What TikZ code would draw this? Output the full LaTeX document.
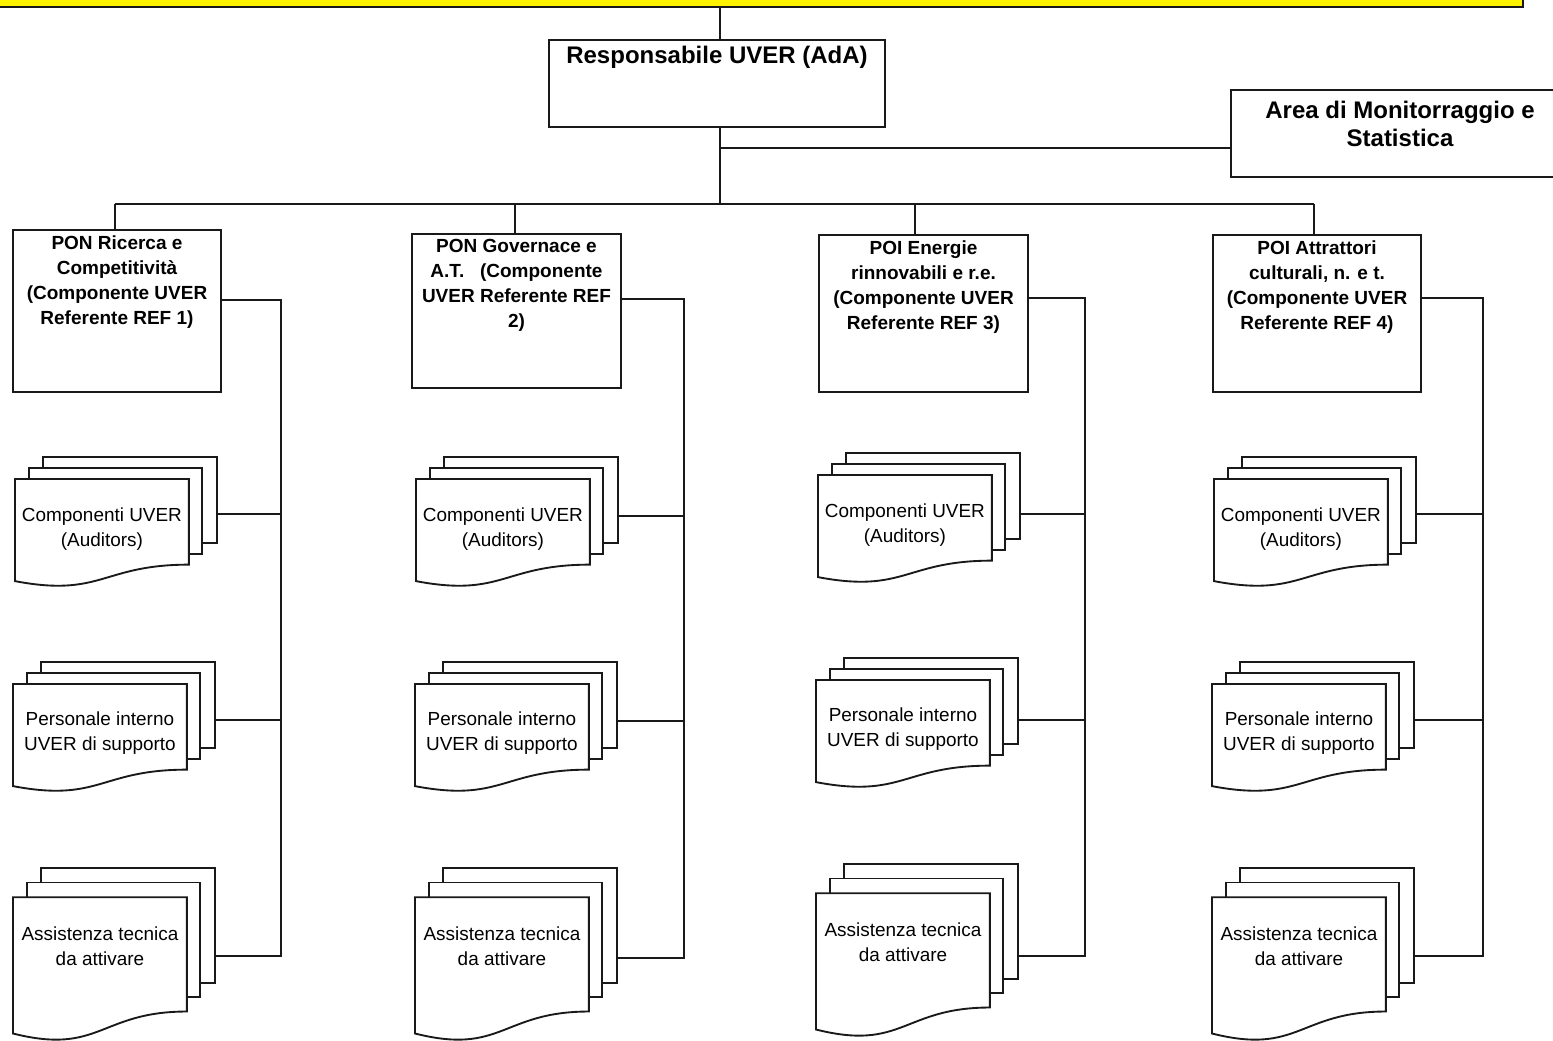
\documentclass[tikz,border=0pt]{standalone}
\usepackage{fontspec}
\setmainfont{Liberation Sans}
\usetikzlibrary{fit}
\tikzset{
  ln/.style={line width=1.4pt, draw=black!90, line join=miter},
  box/.style={ln, inner sep=0pt, fill=white},
  sheet/.style={ln, fill=white},
  boxtext/.style={align=center, font=\bfseries\fontsize{14.25}{18.9}\selectfont, inner sep=0pt},
  doctext/.style={align=center, font=\fontsize{14.2}{18.6}\selectfont, inner sep=0pt},
  bigtext/.style={align=center, font=\bfseries\fontsize{18}{21}\selectfont, inner sep=0pt},
  conn/.style={ln}
}
% multi-document shape: #1 name, #2 x, #3 top y, #4 height, #5 text, #6 text frac, #7 connector frac
\newcommand{\mdoc}[7]{%
  \begin{scope}[shift={(#2,#3)}, xscale=202, yscale=#4]
    \draw[sheet] (0.13759,0) rectangle (1,0.6663);
    \draw[sheet] (0.07093,0.08403) rectangle (0.92593,0.75241);
    \draw[sheet] (0,0.17014) -- (0.86088,0.17014) -- (0.86088,0.83435)
      .. controls (0.43046,0.83435) and (0.43046,1.08991) .. (0,0.96213) -- cycle;
    \coordinate (#1) at (1,#7);
    \node[doctext] (#1t) at (0.43044,#6) {#5};
  \end{scope}}

\begin{document}
\begin{tikzpicture}[x=0.75pt, y=-0.75pt]
\useasboundingbox (0,0) rectangle (1553,1040);
\clip (0,0) rectangle (1553,1040);

% top yellow bar
\node[fit={(-20,-20) (1523,7)}, inner sep=0pt, fill=yellow, draw=black!90, line width=1.6pt] (top) {};

% Responsabile
\node[box, fit={(549,40) (885,127)}] (resp) {};
\node[bigtext] (respt) at (717,57) {Responsabile UVER (AdA)};

% Area
\node[box, fit={(1231,90) (1570,177)}] (area) {};
\node[bigtext] (areat) at (1400,124) {Area di Monitorraggio e\\Statistica};

% PON / POI boxes
\node[box, fit={(13,230) (221,392)}] (p1) {};
\node[boxtext] (p1t) at (117,282) {PON Ricerca e\\Competitività\\(Componente UVER\\Referente REF 1)};
\node[box, fit={(412,234) (621,388)}] (p2) {};
\node[boxtext] (p2t) at (516.5,285.5) {PON Governace e\\A.T.\ \ \ (Componente\\UVER Referente REF\\2)};
\node[box, fit={(819,235) (1028,392)}] (p3) {};
\node[boxtext] (p3t) at (923.5,287) {POI Energie\\rinnovabili e r.e.\\(Componente UVER\\Referente REF 3)};
\node[box, fit={(1213,235) (1421,392)}] (p4) {};
\node[boxtext] (p4t) at (1317,287) {POI Attrattori\\culturali, n. e t.\\(Componente UVER\\Referente REF 4)};

% documents
\mdoc{c1}{15}{457}{129}{Componenti UVER\\(Auditors)}{0.56}{0.445}
\mdoc{s1}{13}{662}{129}{Personale interno\\UVER di supporto}{0.548}{0.45}
\mdoc{a1}{13}{868}{172}{Assistenza tecnica\\da attivare}{0.456}{0.513}

\mdoc{c2}{416}{457}{129}{Componenti UVER\\(Auditors)}{0.56}{0.455}
\mdoc{s2}{415}{662}{129}{Personale interno\\UVER di supporto}{0.548}{0.457}
\mdoc{a2}{415}{868}{172}{Assistenza tecnica\\da attivare}{0.456}{0.523}

\mdoc{c3}{818}{453}{129}{Componenti UVER\\(Auditors)}{0.56}{0.472}
\mdoc{s3}{816}{658}{129}{Personale interno\\UVER di supporto}{0.548}{0.48}
\mdoc{a3}{816}{864}{172}{Assistenza tecnica\\da attivare}{0.456}{0.535}

\mdoc{c4}{1214}{457}{129}{Componenti UVER\\(Auditors)}{0.56}{0.442}
\mdoc{s4}{1212}{662}{129}{Personale interno\\UVER di supporto}{0.548}{0.45}
\mdoc{a4}{1212}{868}{172}{Assistenza tecnica\\da attivare}{0.456}{0.512}

% top connectors
\coordinate (tp) at (720,7);
\coordinate (bus) at (720,204);
\coordinate (abr) at (720,148);
\draw[conn] (tp) -- (tp |- resp.north);
\draw[conn] (bus |- resp.south) -- (bus);
\draw[conn] (abr) -- (abr -| area.west);

\coordinate (d1) at (115,204);
\coordinate (d2) at (515,204);
\coordinate (d3) at (915,204);
\coordinate (d4) at (1314,204);
\draw[conn] (d1) -- (d4);
\foreach \i in {1,...,4} {\draw[conn] (d\i) -- (d\i |- p\i.north);}

% column verticals
\coordinate (v1) at (281,300);
\coordinate (v2) at (684,299);
\coordinate (v3) at (1085,298);
\coordinate (v4) at (1483,298);
\foreach \i in {1,...,4} {
  \draw[conn] (p\i.east |- v\i) -- (v\i) -- (v\i |- a\i) -- (a\i);
  \draw[conn] (c\i) -- (c\i -| v\i);
  \draw[conn] (s\i) -- (s\i -| v\i);
}
\end{tikzpicture}
\end{document}
